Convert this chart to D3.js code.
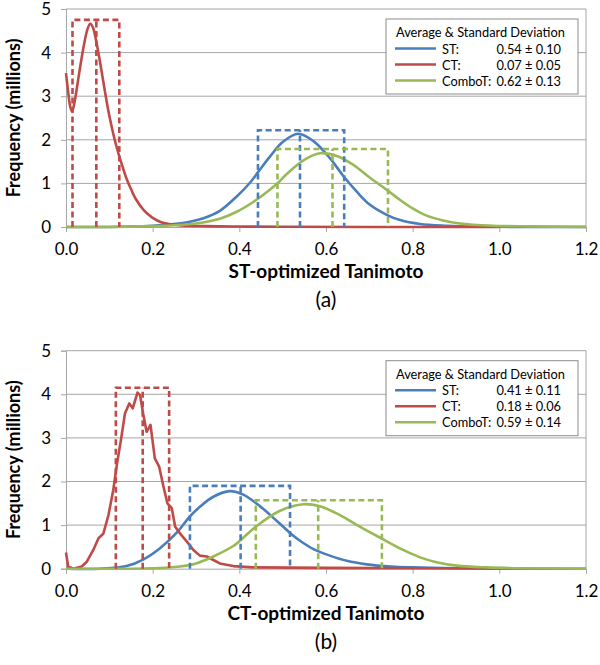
<!DOCTYPE html>
<html>
<head>
<meta charset="utf-8">
<script src="https://cdn.jsdelivr.net/npm/d3@7"></script>
<style>
  html, body { margin: 0; padding: 0; background: #fff; }
  svg { display: block; }
  text { font-family: Lato, "Open Sans", "DejaVu Sans", sans-serif; fill: #000; }
</style>
</head>
<body>
<div id="chart"></div>
<script>
// ---------------- data ----------------
const xTicks = [0, 0.2, 0.4, 0.6, 0.8, 1.0, 1.2];
const yTicks = [0, 1, 2, 3, 4, 5];
const seriesNames = ["ST", "CT", "ComboT"];
const seriesColors = ["#4A7EBB", "#BE4B48", "#98B954"];

// panel (a): ST-optimized Tanimoto  [x, frequency in millions]
const aST = [[0,0],[0.1,0],[0.15,0.01],[0.2,0.03],[0.24,0.06],[0.28,0.11],[0.317,0.2],[0.355,0.37],[0.394,0.7],[0.425,1.02],[0.444,1.27],[0.471,1.62],[0.50,1.95],[0.536,2.14],[0.571,1.97],[0.609,1.58],[0.64,1.17],[0.671,0.81],[0.70,0.52],[0.74,0.28],[0.771,0.16],[0.817,0.07],[0.879,0.03],[0.95,0.01],[1.0,0.005],[1.1,0],[1.2,0]];
const aCT = [[0,3.53],[0.005,3.1],[0.01,2.75],[0.014,2.65],[0.02,2.88],[0.03,3.5],[0.04,4.1],[0.05,4.55],[0.056,4.66],[0.062,4.58],[0.07,4.25],[0.08,3.7],[0.09,3.1],[0.10,2.55],[0.11,2.1],[0.12,1.72],[0.13,1.4],[0.14,1.1],[0.15,0.87],[0.16,0.66],[0.18,0.38],[0.20,0.21],[0.22,0.11],[0.25,0.05],[0.28,0.03],[0.32,0.02],[0.40,0.01],[0.5,0.005],[0.7,0],[1.0,0]];
const aCombo = [[0,0],[0.1,0],[0.2,0.02],[0.25,0.04],[0.3,0.08],[0.355,0.19],[0.394,0.35],[0.433,0.58],[0.471,0.86],[0.49,1.02],[0.51,1.22],[0.548,1.53],[0.586,1.69],[0.625,1.63],[0.664,1.42],[0.70,1.14],[0.743,0.83],[0.771,0.62],[0.801,0.42],[0.832,0.26],[0.87,0.15],[0.909,0.08],[0.986,0.03],[1.063,0.015],[1.2,0.003]];
// dashed boxes: mean - sd, mean, mean + sd, height
const aBoxes = [
  {lo:0.443, mean:0.54, hi:0.642, h:2.22},
  {lo:0.015, mean:0.07, hi:0.123, h:4.75},
  {lo:0.488, mean:0.615, hi:0.743, h:1.79}
];
const aStats = ["0.54 \u00B1 0.10", "0.07 \u00B1 0.05", "0.62 \u00B1 0.13"];

// panel (b): CT-optimized Tanimoto
const bST = [[0,0],[0.078,0],[0.14,0.06],[0.178,0.21],[0.217,0.47],[0.255,0.82],[0.286,1.2],[0.309,1.42],[0.34,1.65],[0.378,1.78],[0.409,1.7],[0.448,1.43],[0.486,1.1],[0.517,0.82],[0.54,0.64],[0.571,0.45],[0.609,0.3],[0.648,0.18],[0.694,0.1],[0.75,0.05],[0.8,0.03],[0.9,0.01],[1.0,0],[1.2,0]];
const bCT = [[0,0.37],[0.005,0.05],[0.017,0],[0.036,0.05],[0.048,0.16],[0.063,0.43],[0.075,0.70],[0.086,0.8],[0.098,1.23],[0.109,1.8],[0.118,2.42],[0.128,3.03],[0.136,3.56],[0.146,3.79],[0.154,3.68],[0.165,4.04],[0.171,3.98],[0.178,3.56],[0.186,3.14],[0.195,3.3],[0.205,2.53],[0.215,2.34],[0.225,1.88],[0.234,1.5],[0.244,1.39],[0.252,0.96],[0.263,0.81],[0.279,0.62],[0.294,0.43],[0.309,0.3],[0.325,0.28],[0.34,0.2],[0.355,0.12],[0.386,0.06],[0.43,0.03],[0.6,0.02],[0.8,0.01],[1.0,0.01]];
const bCombo = [[0,0],[0.2,0.01],[0.263,0.05],[0.3,0.12],[0.34,0.28],[0.386,0.52],[0.40,0.63],[0.44,0.98],[0.494,1.33],[0.548,1.48],[0.586,1.43],[0.632,1.23],[0.679,0.96],[0.727,0.70],[0.778,0.43],[0.817,0.26],[0.855,0.15],[0.902,0.07],[0.971,0.03],[1.05,0.01],[1.2,0]];
const bBoxes = [
  {lo:0.286, mean:0.403, hi:0.517, h:1.9},
  {lo:0.115, mean:0.177, hi:0.238, h:4.15},
  {lo:0.438, mean:0.582, hi:0.729, h:1.57}
];
const bStats = ["0.41 \u00B1 0.11", "0.18 \u00B1 0.06", "0.59 \u00B1 0.14"];

const panels = [
  {series:[aST, aCT, aCombo], jagged:[false, false, false], boxes:aBoxes, stats:aStats, xTitle:"ST-optimized Tanimoto", tag:"(a)", top:9},
  {series:[bST, bCT, bCombo], jagged:[false, true, false], boxes:bBoxes, stats:bStats, xTitle:"CT-optimized Tanimoto", tag:"(b)", top:350.7}
];

// ---------------- drawing ----------------
const W = 600, H = 665;
const svg = d3.select("#chart").append("svg").attr("width", W).attr("height", H);

const left = 66, right = 586, plotH = 218;
const x = d3.scaleLinear().domain([0, 1.2]).range([left, right]);
const gridColor = "#A6A6A6";

panels.forEach(p => {
  const y = d3.scaleLinear().domain([0, 5]).range([p.top + plotH, p.top]);
  const g = svg.append("g");

  // gridlines
  g.append("g").selectAll("line").data(yTicks.filter(d => d > 0)).join("line")
    .attr("x1", left).attr("x2", right)
    .attr("y1", d => y(d)).attr("y2", d => y(d))
    .attr("stroke", gridColor).attr("stroke-width", 1);
  // right border
  g.append("line").attr("x1", right).attr("x2", right)
    .attr("y1", y(5)).attr("y2", y(0)).attr("stroke", gridColor);

  // y axis
  const yAxis = g.append("g").attr("transform", `translate(${left},0)`)
    .call(d3.axisLeft(y).tickValues(yTicks).tickSize(5).tickPadding(10).tickFormat(d3.format("d")));
  yAxis.select(".domain").attr("stroke", gridColor);
  yAxis.selectAll(".tick line").attr("stroke", gridColor);
  yAxis.selectAll("text").attr("font-size", 17).attr("fill", "#000")
    .style("font-family", "Lato, sans-serif");

  // x axis
  const xAxis = g.append("g").attr("transform", `translate(0,${y(0)})`)
    .call(d3.axisBottom(x).tickValues(xTicks).tickSize(5).tickPadding(11).tickFormat(d3.format(".1f")));
  xAxis.select(".domain").attr("stroke", gridColor);
  xAxis.selectAll(".tick line").attr("stroke", gridColor);
  xAxis.selectAll("text").attr("font-size", 17).attr("fill", "#000")
    .style("font-family", "Lato, sans-serif");

  // curves
  const smooth = d3.line().x(d => x(d[0])).y(d => y(d[1])).curve(d3.curveCatmullRom.alpha(0.5));
  const rough = d3.line().x(d => x(d[0])).y(d => y(d[1])).curve(d3.curveLinear);
  p.series.forEach((s, i) => {
    g.append("path").datum(s).attr("d", p.jagged[i] ? rough : smooth)
      .attr("fill", "none").attr("stroke", seriesColors[i]).attr("stroke-width", 2.6)
      .attr("stroke-linejoin", "round");
  });

  // dashed boxes
  p.boxes.forEach((b, i) => {
    const path = d3.path();
    path.moveTo(x(b.lo), y(0)); path.lineTo(x(b.lo), y(b.h));
    path.lineTo(x(b.hi), y(b.h)); path.lineTo(x(b.hi), y(0));
    path.moveTo(x(b.mean), y(0)); path.lineTo(x(b.mean), y(b.h));
    g.append("path").attr("d", path.toString())
      .attr("fill", "none").attr("stroke", seriesColors[i]).attr("stroke-width", 2.6)
      .attr("stroke-dasharray", "6,3.5");
  });

  // legend
  const fs = 12.8;
  const lg = g.append("g").attr("transform", `translate(386,${p.top + 10})`);
  lg.append("rect").attr("x", 0).attr("y", 0).attr("width", 192).attr("height", 75)
    .attr("fill", "#fff").attr("stroke", "#8C8C8C").attr("stroke-width", 1);
  lg.append("text").attr("x", 10).attr("y", 18).attr("font-size", fs)
    .text("Average & Standard Deviation");
  seriesNames.forEach((n, i) => {
    const cy = 29.5 + i * 16;
    lg.append("line").attr("x1", 9).attr("x2", 50).attr("y1", cy).attr("y2", cy)
      .attr("stroke", seriesColors[i]).attr("stroke-width", 2.6);
    lg.append("text").attr("x", 56).attr("y", cy + 5).attr("font-size", fs).text(n + ":");
    lg.append("text").attr("x", 175).attr("y", cy + 5).attr("font-size", fs)
      .attr("text-anchor", "end").text(p.stats[i]);
  });

  // titles
  g.append("text").attr("x", 326).attr("y", y(0) + 51).attr("text-anchor", "middle")
    .attr("font-size", 19).attr("font-weight", "bold").text(p.xTitle);
  g.append("text").attr("x", 326).attr("y", y(0) + 80).attr("text-anchor", "middle")
    .attr("font-size", 21).text(p.tag);
  g.append("text").attr("transform", `translate(20,${(y(0) + y(5)) / 2}) rotate(-90)`)
    .attr("text-anchor", "middle").attr("font-size", 18).attr("font-weight", "bold")
    .text("Frequency (millions)");
});
</script>
</body>
</html>
